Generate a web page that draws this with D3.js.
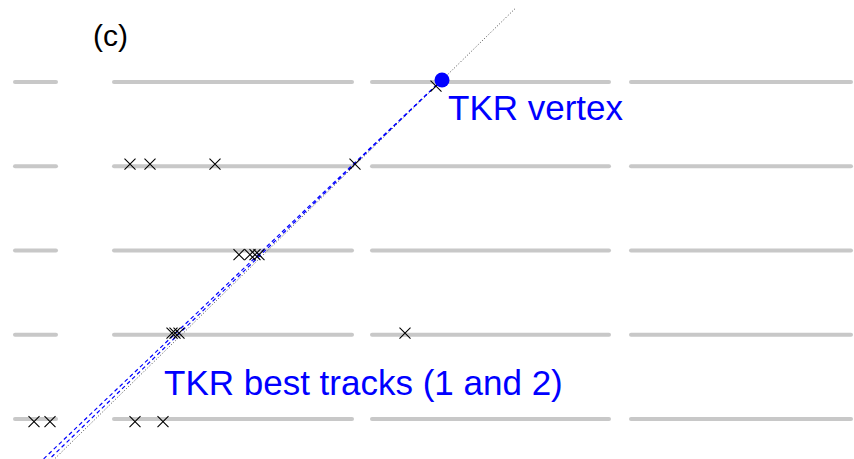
<!DOCTYPE html>
<html>
<head>
<meta charset="utf-8">
<script src="https://cdn.jsdelivr.net/npm/d3@7"></script>
<style>
  html, body { margin: 0; padding: 0; background: #fff; }
  svg { display: block; font-family: "Liberation Sans", Arial, Helvetica, sans-serif; }
</style>
</head>
<body>
<svg id="chart" width="854" height="459"></svg>
<script>
// Tracker event display, side view. x in cm across the trays, z in tray units (0 = top tray).
const trayZ = [0, 1, 2, 3, 4];
const ladderX = [[1.5, 5.6], [11.4, 35.2], [37.2, 60.9], [63.1, 85.1]];

// Silicon hits per tray: x positions and measured z
const hitX = [
  [43.6],
  [13.0, 15.0, 21.5, 35.5],
  [23.9, 25.0, 25.5, 25.9],
  [17.2, 17.5, 17.9, 40.5],
  [3.4, 5.0, 13.5, 16.3]
];
const hitZ = [0.048, 0.975, 2.05, 2.98, 4.03];

// Reconstructed vertex
const vertex = { x: 44.2, z: -0.024 };

// Best tracks (1 and 2): start and end points
const track1 = [{ x: 43.7, z: 0.03 }, { x: 4.3, z: 4.48 }];
const track2 = [{ x: 43.7, z: 0.03 }, { x: 4.9, z: 4.48 }];

// Incoming direction line (dotted)
const truthLine = [{ x: 51.5, z: -0.87 }, { x: 5.4, z: 4.48 }];

const labels = {
  panel: "(c)",
  vertex: "TKR vertex",
  tracks: "TKR best tracks (1 and 2)"
};

const svg = d3.select("#chart");
const x = d3.scaleLinear().domain([0, 85.4]).range([0, 854]);
const y = d3.scaleLinear().domain([0, 4]).range([82, 419]);

// Tray ladders
const ladders = [];
trayZ.forEach(z => ladderX.forEach(seg => ladders.push({ z, x0: seg[0], x1: seg[1] })));
svg.append("g").selectAll("line").data(ladders).join("line")
  .attr("x1", d => x(d.x0)).attr("x2", d => x(d.x1))
  .attr("y1", d => y(d.z)).attr("y2", d => y(d.z))
  .attr("stroke", "#c8c8c8").attr("stroke-width", 4).attr("stroke-linecap", "round");

const line = d3.line().x(d => x(d.x)).y(d => y(d.z));

// Dotted incoming line
svg.append("path").datum(truthLine).attr("d", line)
  .attr("fill", "none").attr("stroke", "#333").attr("stroke-width", 0.9)
  .attr("stroke-dasharray", "1,2");

// Track lines
svg.append("g").selectAll("path").data([track1, track2]).join("path")
  .attr("d", line).attr("fill", "none").attr("stroke", "#0000ff")
  .attr("stroke-width", 1.2).attr("stroke-dasharray", "4,3");

// Hits as crosses
const hits = [];
hitX.forEach((xs, i) => xs.forEach(v => hits.push({ x: v, z: hitZ[i] })));
const s = 5.5;
svg.append("g").selectAll("path").data(hits).join("path")
  .attr("d", d => {
    const cx = x(d.x), cy = y(d.z);
    return `M${cx - s},${cy - s}L${cx + s},${cy + s}M${cx - s},${cy + s}L${cx + s},${cy - s}`;
  })
  .attr("stroke", "#000").attr("stroke-width", 1.1).attr("fill", "none");

// Vertex marker
svg.append("circle").attr("cx", x(vertex.x)).attr("cy", y(vertex.z)).attr("r", 7.5)
  .attr("fill", "#0000ff");

// Labels
svg.append("text").attr("x", 93).attr("y", 46).attr("font-size", 30).attr("fill", "#000")
  .text(labels.panel);
svg.append("text").attr("x", 448).attr("y", 120).attr("font-size", 35).attr("fill", "#0000ff")
  .text(labels.vertex);
svg.append("text").attr("x", 164).attr("y", 395).attr("font-size", 35).attr("fill", "#0000ff")
  .text(labels.tracks);
</script>
</body>
</html>
